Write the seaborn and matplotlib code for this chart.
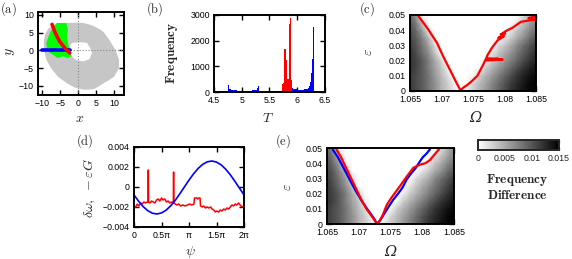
import numpy as np
import pandas as pd
import seaborn as sns
import matplotlib
matplotlib.use('Agg')
import matplotlib.pyplot as plt
from matplotlib.ticker import FuncFormatter

# (a) phase plane regions
gray_outer_x = [-3.3, 0.0, 1.4, 3.0, 4.3, 6.2, 7.1, 8.7, 10.4, 11.3, 11.3, 10.0, 8.6, 7.1, 5.5, 4.3, 2.8, 1.4,
                -1.0, -3.3, -5.7, -7.6, -8.9, -9.5, -9.6, -9.2, -8.3, -7.0, -5.3]
gray_outer_y = [7.7, 7.8, 7.7, 7.3, 6.8, 5.8, 5.1, 2.8, 0.0, -2.6, -5.0, -7.4, -8.4, -9.2, -10.3, -10.9, -11.1, -11.1,
                -10.5, -9.2, -7.4, -5.0, -2.6, 0.0, 2.5, 4.6, 6.1, 7.0, 7.6]
hole_x = [-1.6, 0.4, 2.4, 3.3, 3.8, 3.1, 1.4, -0.5, -1.9, -2.4, -2.2]
hole_y = [2.1, 2.3, 2.1, 0.7, -0.75, -2.5, -3.1, -2.8, -1.7, 0.2, 1.6]
green_x = [-6.0, -3.3, -2.9, -3.1, -2.9, -2.4, -1.9, -2.9, -4.3, -5.7, -7.1, -8.6, -8.9, -8.1, -7.1]
green_y = [7.7, 7.7, 5.8, 4.0, 2.1, -0.3, -1.7, -2.2, -1.7, -2.2, -1.2, -0.3, 2.1, 4.4, 6.3]
red_curve_x = [-7.3, -6.4, -5.2, -3.8, -2.4]
red_curve_y = [7.3, 4.9, 2.5, 0.7, -0.75]
blue_seg_x = [-10.2, -2.4]
blue_seg_y = [0.0, 0.0]

# (b) period histograms (bin centres, counts)
blue_T = [4.76, 4.78, 4.80, 4.82, 4.84, 4.86, 4.88, 4.90, 4.92, 4.94, 4.96, 4.98, 5.00, 5.02, 5.04, 5.06, 5.08,
          5.10, 5.12, 5.14, 5.16, 5.18, 5.20, 5.22, 5.24, 5.26, 5.28, 5.30,
          5.44, 5.46, 5.48, 5.50, 5.52, 5.54, 5.56, 5.58, 5.60, 5.62, 5.64, 5.66, 5.68, 5.70, 5.72, 5.74, 5.76,
          5.78, 5.80, 5.82, 5.84, 5.86, 5.88, 5.90, 5.92, 5.94, 5.96, 5.98, 6.00, 6.02, 6.04, 6.06, 6.08, 6.10,
          6.12, 6.14, 6.16, 6.18, 6.20, 6.22, 6.24, 6.26, 6.28, 6.30]
blue_count = [280, 130, 100, 90, 80, 72, 66, 62, 58, 55, 52, 50, 48, 47, 46, 46, 46,
              47, 48, 50, 52, 55, 60, 66, 75, 95, 140, 230,
              35, 32, 30, 30, 30, 30, 32, 32, 34, 36, 38, 40, 44, 48, 55, 65, 75,
              90, 110, 140, 170, 210, 250, 200, 150, 120, 105, 100, 95, 92, 90, 90, 90, 92,
              95, 100, 110, 130, 170, 250, 400, 750, 1300, 2550]
red_T = [5.74, 5.76, 5.78, 5.80, 5.82, 5.84, 5.86, 5.88, 5.90]
red_count = [320, 360, 1660, 1250, 500, 520, 2650, 2900, 450]

# (c), (e) frequency difference map
omega = [1.065, 1.066, 1.067, 1.068, 1.069, 1.070, 1.071, 1.072, 1.073, 1.074, 1.075,
         1.076, 1.077, 1.078, 1.079, 1.080, 1.081, 1.082, 1.083, 1.084, 1.085]
eps = [0.0, 0.005, 0.010, 0.015, 0.020, 0.025, 0.030, 0.035, 0.040, 0.045, 0.050]
freq_diff_1e3 = [
    [11.5, 10.5, 9.5, 8, 6.5, 4.5, 3, 1.5, 0, 1.5, 3, 4.5, 6, 7.5, 9, 10.5, 12, 13, 14, 14.5, 15],
    [11.5, 10.5, 9.5, 8, 6.5, 4.5, 3, 1, 0, 0.3, 2.5, 4, 5.5, 7, 8.5, 10, 11.5, 12.5, 13.5, 14.5, 15],
    [11.5, 10.5, 9.5, 8, 6, 4, 2, 0, 0, 0, 0.5, 3, 4.5, 6, 7.5, 9, 10.5, 12, 13, 14, 14.5],
    [12, 11, 9.5, 7.5, 5.5, 3.5, 1, 0, 0, 0, 0, 0.5, 3, 4.5, 6, 7.5, 9, 10.5, 12, 13, 14],
    [12, 11, 9.5, 7.5, 5, 2.5, 0, 0, 0, 0, 0, 0, 1, 3, 4.5, 6, 7.5, 9, 10.5, 12, 13],
    [12, 10.5, 8.5, 6.5, 3.5, 0, 0, 0, 0, 0, 0, 0, 0, 1.5, 3.5, 5, 6.5, 8, 9.5, 11, 12.5],
    [11.5, 10, 8, 5.5, 2, 0, 0, 0, 0, 0, 0, 0, 0, 0, 2, 3.5, 5, 7, 8.5, 10, 11.5],
    [11, 9.5, 7, 4, 0, 0, 0, 0, 0, 0, 0, 0, 0, 0, 0, 1.5, 3, 5, 6.5, 8.5, 10],
    [10.5, 8.5, 5.5, 1, 0, 0, 0, 0, 0, 0, 0, 0, 0, 0, 0, 0, 1.5, 3.5, 5, 7, 8.5],
    [10, 7.5, 3, 0, 0, 0, 0, 0, 0, 0, 0, 0, 0, 0, 0, 0, 0, 1.5, 3.5, 5.5, 7.5],
    [9, 6, 0, 0, 0, 0, 0, 0, 0, 0, 0, 0, 0, 0, 0, 0, 0, 0, 2, 4.5, 7],
]

# (c) tongue boundary
c_red_omega = [1.0663, 1.0679, 1.0693, 1.0703, 1.0714, 1.0722, 1.0730, 1.0735, 1.0741, 1.0749, 1.0757, 1.0762,
               1.0767, 1.0769, 1.0797, 1.0770, 1.0790, 1.0771, 1.0773, 1.0781, 1.0789, 1.0799, 1.0790, 1.0801,
               1.0794, 1.0802, 1.0813, 1.0826, 1.0845, 1.0848, 1.0838, 1.0849]
c_red_eps = [0.0495, 0.0405, 0.0315, 0.0225, 0.0135, 0.0068, 0.0005, 0.0023, 0.0040, 0.0068, 0.0100, 0.0140,
             0.0180, 0.0200, 0.0207, 0.0205, 0.0212, 0.0215, 0.0236, 0.0290, 0.0333, 0.0360, 0.0349, 0.0378,
             0.0372, 0.0394, 0.0417, 0.0455, 0.0468, 0.0470, 0.0480, 0.0490]

# (d) phase response
psi_blue = [0, 1/12, 2/12, 3/12, 4/12, 5/12, 6/12, 7/12, 8/12, 9/12, 10/12, 11/12, 1,
            13/12, 14/12, 15/12, 16/12, 17/12, 18/12, 19/12, 20/12, 21/12, 22/12, 23/12, 2]
dw_blue = [-0.00079, -0.00142, -0.00196, -0.00237, -0.00262, -0.00270, -0.00259, -0.00232, -0.00188,
           -0.00133, -0.00068, 0.00001, 0.00069, 0.00132, 0.00186, 0.00227, 0.00252, 0.00260, 0.00249,
           0.00222, 0.00178, 0.00123, 0.00058, -0.00011, -0.00079]
psi_red = [0.00, 0.03, 0.06, 0.09, 0.12, 0.15, 0.18, 0.21, 0.24, 0.255, 0.26, 0.265, 0.29, 0.32, 0.35, 0.38,
           0.41, 0.44, 0.47, 0.50, 0.53, 0.56, 0.59, 0.62, 0.65, 0.68, 0.715, 0.72, 0.725, 0.75, 0.78, 0.81,
           0.85, 0.89, 0.93, 0.97, 1.01, 1.05, 1.09, 1.10, 1.14, 1.16, 1.18, 1.20, 1.21, 1.24, 1.27, 1.30,
           1.33, 1.36, 1.39, 1.42, 1.45, 1.48, 1.51, 1.54, 1.57, 1.60, 1.63, 1.66, 1.69, 1.72, 1.75, 1.78,
           1.81, 1.84, 1.87, 1.90, 1.93, 1.96, 2.00]
dw_red = [-0.0019, -0.0020, -0.0017, -0.0019, -0.0016, -0.0017, -0.0015, -0.0016, -0.0015, -0.0015, 0.0017,
          -0.0015, -0.0016, -0.0014, -0.0015, -0.0016, -0.0013, -0.0012, -0.0014, -0.0011, -0.0013, -0.0012,
          -0.0015, -0.0014, -0.0016, -0.0015, -0.0016, 0.0015, -0.0016, -0.0017, -0.0018, -0.0017, -0.0019,
          -0.0018, -0.0019, -0.0018, -0.0017, -0.0018, -0.0017, -0.0011, -0.0011, -0.0012, -0.0011, -0.0011,
          -0.0019, -0.0020, -0.0019, -0.0021, -0.0020, -0.0021, -0.0020, -0.0022, -0.0023, -0.0025, -0.0024,
          -0.0025, -0.0023, -0.0024, -0.0022, -0.0023, -0.0021, -0.0022, -0.0020, -0.0018, -0.0019, -0.0017,
          -0.0018, -0.0016, -0.0018, -0.0020, -0.0019]

# (e) tongue boundaries, two methods
e_blue_omega = [1.0659, 1.0667, 1.0676, 1.0686, 1.0695, 1.0705, 1.0713, 1.0720, 1.0725, 1.0728, 1.0731, 1.0736,
                1.0742, 1.0748, 1.0754, 1.0762, 1.0769, 1.0775, 1.0782, 1.0790, 1.0796, 1.0801, 1.0806, 1.0812]
e_blue_eps = [0.049, 0.044, 0.037, 0.029, 0.022, 0.015, 0.010, 0.006, 0.003, 0.0005, 0.001, 0.004,
              0.008, 0.012, 0.0158, 0.020, 0.024, 0.029, 0.033, 0.037, 0.041, 0.044, 0.046, 0.049]
e_red_omega = [1.0665, 1.0672, 1.0680, 1.0688, 1.0696, 1.0704, 1.0712, 1.0719, 1.0724, 1.0729, 1.0733, 1.0738,
               1.0744, 1.0751, 1.0758, 1.0765, 1.0770, 1.0777, 1.0786, 1.0796, 1.0805, 1.0812, 1.0820, 1.0828]
e_red_eps = [0.049, 0.044, 0.037, 0.030, 0.023, 0.016, 0.010, 0.006, 0.003, 0.0, 0.002, 0.006,
             0.0125, 0.017, 0.021, 0.025, 0.028, 0.032, 0.037, 0.039, 0.040, 0.042, 0.046, 0.050]

W, H = 572, 259


def box(l, t, r, b):
    return [l / W, 1 - b / H, (r - l) / W, (b - t) / H]


def put(fig, px, py, s, **kw):
    fig.text(px / W, 1 - py / H, s, ha='center', va='center', **kw)


def style_axes(ax):
    ax.tick_params(direction='in', top=True, right=True, length=3.5, width=1.0,
                   labelsize=6.3, pad=3, colors='black')
    for s in ax.spines.values():
        s.set_visible(True)
        s.set_linewidth(1.4)
        s.set_color('black')
    ax.set_xlabel('')
    ax.set_ylabel('')


sns.set_theme(style='ticks')
plt.rcParams['font.family'] = ['Liberation Sans', 'DejaVu Sans']
plt.rcParams['mathtext.fontset'] = 'cm'
plt.rcParams['axes.unicode_minus'] = True

fig = plt.figure(figsize=(W / 100, H / 100), dpi=100)
fig.patch.set_facecolor('white')
lab = dict(fontsize=10)
omega_lab = dict(fontsize=10.5, family='DejaVu Serif', style='italic')

# ---- (a)
ax = fig.add_axes(box(38, 12, 124, 95))
ax.fill(gray_outer_x, gray_outer_y, color='#c6c6c6', lw=0, zorder=1)
ax.fill(hole_x, hole_y, color='white', lw=0, zorder=1.1)
ax.axhline(0, color='#888888', ls=':', lw=0.8, zorder=1.2)
ax.axvline(0, color='#888888', ls=':', lw=0.8, zorder=1.2)
ax.fill(green_x, green_y, color='#00ff00', lw=0, zorder=2)
sns.lineplot(x=blue_seg_x, y=blue_seg_y, color='#0000ff', lw=2.6, ax=ax, zorder=3)
sns.lineplot(x=red_curve_x, y=red_curve_y, color='#ff0000', lw=2.6, ax=ax, sort=False, zorder=4)
ax.set_xlim(-11.2, 12.7)
ax.set_ylim(-12.6, 10.8)
ax.set_xticks([-10, -5, 0, 5, 10])
ax.set_yticks([-10, -5, 0, 5, 10])
style_axes(ax)
put(fig, 8, 9, r'$\mathrm{(a)}$', fontsize=9)
put(fig, 80, 118, r'$x$', **lab)
put(fig, 10, 52, r'$y$', rotation=90, **lab)

# ---- (b)
ax = fig.add_axes(box(214, 15, 325, 92))
blue_df = pd.DataFrame({'T': blue_T, 'n': blue_count})
red_df = pd.DataFrame({'T': red_T, 'n': red_count})
bedges = [round(4.75 + 0.02 * k, 3) for k in range(79)]
redges = [round(5.73 + 0.02 * k, 3) for k in range(10)]
sns.histplot(data=blue_df, x='T', weights='n', bins=bedges, color='#0000ff', element='step',
             fill=True, alpha=1, linewidth=0, ax=ax)
sns.histplot(data=red_df, x='T', weights='n', bins=redges, color='#ff0000', element='step',
             fill=True, alpha=1, linewidth=0, ax=ax)
ax.set_xlim(4.5, 6.5)
ax.set_ylim(0, 3000)
ax.set_xticks([4.5, 5, 5.5, 6, 6.5])
ax.set_xticklabels(['4.5', '5', '5.5', '6', '6.5'])
ax.set_yticks([0, 1000, 2000, 3000])
style_axes(ax)
put(fig, 155, 9, r'$\mathrm{(b)}$', fontsize=9)
put(fig, 172, 53, r'$\mathbf{Frequency}$', rotation=90, fontsize=9.5)
put(fig, 268, 118, r'$T$', **lab)

# ---- (c) and (e) maps
fd = np.array(freq_diff_1e3) * 1e-3
omega_ticks = [1.065, 1.07, 1.075, 1.08, 1.085]
omega_labels = ['1.065', '1.07', '1.075', '1.08', '1.085']
eps_ticks = [0, 0.01, 0.02, 0.03, 0.04, 0.05]
eps_labels = ['0', '0.01', '0.02', '0.03', '0.04', '0.05']


def tongue_axes(rect):
    ax = fig.add_axes(rect)
    mesh = ax.pcolormesh(omega, eps, fd, cmap='gray_r', vmin=0, vmax=0.015, shading='gouraud',
                         rasterized=True)
    ax.set_xlim(1.065, 1.085)
    ax.set_ylim(0, 0.05)
    ax.set_xticks(omega_ticks)
    ax.set_xticklabels(omega_labels)
    ax.set_yticks(eps_ticks)
    ax.set_yticklabels(eps_labels)
    return ax, mesh


ax, mesh = tongue_axes(box(410, 15, 536, 91))
sns.lineplot(x=c_red_omega, y=c_red_eps, sort=False, estimator=None, color='#ff0000', lw=1.6, ax=ax)
style_axes(ax)
put(fig, 367, 9, r'$\mathrm{(c)}$', fontsize=9)
put(fig, 368, 52, r'$\varepsilon$', rotation=90, **lab)
put(fig, 475, 118, 'Ω', **omega_lab)

ax, mesh = tongue_axes(box(327, 148, 454, 224))
sns.lineplot(x=e_blue_omega, y=e_blue_eps, sort=False, estimator=None, color='#0000ff', lw=1.6, ax=ax)
sns.lineplot(x=e_red_omega, y=e_red_eps, sort=False, estimator=None, color='#ff0000', lw=1.6, ax=ax)
style_axes(ax)
put(fig, 283, 141, r'$\mathrm{(e)}$', fontsize=9)
put(fig, 287, 187, r'$\varepsilon$', rotation=90, **lab)
put(fig, 390, 252, 'Ω', **omega_lab)

# colour bar
cax = fig.add_axes(box(478, 140, 559, 150))
cb = fig.colorbar(mesh, cax=cax, orientation='horizontal', ticks=[0, 0.005, 0.01, 0.015])
cb.ax.set_xticklabels(['0', '0.005', '0.01', '0.015'])
cb.outline.set_linewidth(1.4)
cb.ax.tick_params(direction='in', length=2.5, width=0.9, labelsize=6.3, pad=3, top=True)
put(fig, 517, 187, r'$\mathbf{Frequency}$' + '\n' + r'$\mathbf{Difference}$', fontsize=9.5,
    linespacing=1.1)

# ---- (d)
ax = fig.add_axes(box(134, 147, 244, 227))
sns.lineplot(x=np.array(psi_red) * np.pi, y=dw_red, sort=False, estimator=None, color='#ff0000', lw=1.1, ax=ax)
sns.lineplot(x=np.array(psi_blue) * np.pi, y=dw_blue, sort=False, estimator=None, color='#0000ff', lw=1.2, ax=ax)
ax.set_xlim(0, 2 * np.pi)
ax.set_ylim(-0.004, 0.004)
ax.set_xticks([0, 0.5 * np.pi, np.pi, 1.5 * np.pi, 2 * np.pi])
ax.set_xticklabels(['0', '0.5π', 'π', '1.5π', '2π'])
ax.set_yticks([-0.004, -0.002, 0, 0.002, 0.004])
ax.yaxis.set_major_formatter(FuncFormatter(lambda v, p: ('%g' % v).replace('-', '\u2212')))
style_axes(ax)
put(fig, 85, 141, r'$\mathrm{(d)}$', fontsize=9)
put(fig, 90, 188, r'$\delta\omega,\ -\varepsilon G$', rotation=90, **lab)
put(fig, 190, 252, r'$\psi$', **lab)

fig.savefig('out.png', dpi=100)
